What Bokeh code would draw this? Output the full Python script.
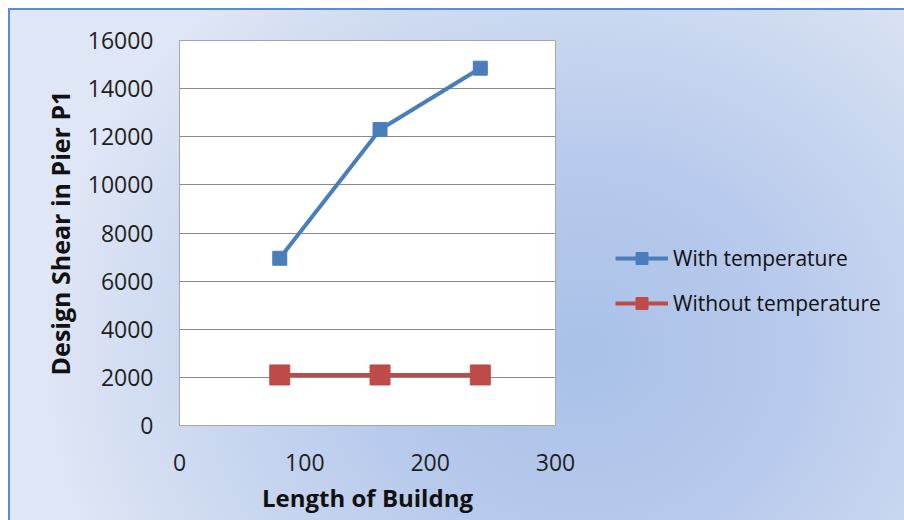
from bokeh.plotting import figure
from bokeh.models import Legend, LegendItem, FixedTicker, Range1d
from bokeh.embed import file_html
from bokeh.resources import INLINE

# ---- data ----
lengths = [80, 160, 240]
with_temperature = [6950, 12300, 14850]
without_temperature = [2100, 2100, 2100]
x_ticks = [0, 100, 200, 300]
y_ticks = [0, 2000, 4000, 6000, 8000, 10000, 12000, 14000, 16000]
series_names = ["With temperature", "Without temperature"]
x_title = "Length of Buildng"
y_title = "Design Shear in Pier P1"

BLUE = "#4a7ebb"
RED = "#be4b48"
FONT = "Open Sans"

p = figure(frame_width=376, frame_height=385, output_backend="svg", toolbar_location=None,
           x_range=Range1d(0, 300), y_range=Range1d(0, 16000),
           min_border_left=179, min_border_top=40, min_border_right=349, min_border_bottom=95)

p.border_fill_alpha = 0
p.background_fill_color = "white"
p.outline_line_color = "#a6a6a6"
p.outline_line_width = 1
p.styles = {
    "background": (
        "linear-gradient(#5b8bd6,#5b8bd6) 8px 8px/100% 2px no-repeat, "
        "linear-gradient(#5b8bd6,#5b8bd6) 8px 8px/2px 100% no-repeat, "
        "radial-gradient(ellipse 540px 480px at 575px 345px, #a9c1e8 0%, #b8caec 40%, #cbd8f0 72%, #dfe6f5 100%) 8px 8px/100% 100% no-repeat, "
        "white"
    )
}

p.xgrid.visible = False
p.ygrid.grid_line_color = "#8a8a8a"
p.ygrid.grid_line_width = 1

p.xaxis.ticker = FixedTicker(ticks=x_ticks)
p.yaxis.ticker = FixedTicker(ticks=y_ticks)
for ax in (p.xaxis[0], p.yaxis[0]):
    ax.axis_line_color = None
    ax.major_tick_line_color = None
    ax.minor_tick_line_color = None
    ax.major_label_text_font = FONT
    ax.major_label_text_font_size = "23px"
    ax.major_label_text_color = "#1f1f1f"
    ax.axis_label_text_font = FONT
    ax.axis_label_text_font_style = "bold"
    ax.axis_label_text_color = "#111111"

p.xaxis.axis_label_text_font_size = "24px"
p.yaxis.axis_label_text_font_size = "25px"
p.xaxis.major_label_standoff = 22
p.yaxis.major_label_standoff = 20
p.xaxis.axis_label = x_title
p.yaxis.axis_label = y_title
p.xaxis.axis_label_standoff = 7
p.yaxis.axis_label_standoff = 8

l1 = p.line(lengths, with_temperature, line_color=BLUE, line_width=4)
s1 = p.scatter(lengths, with_temperature, marker="square", size=14, fill_color=BLUE, line_color=BLUE)
l2 = p.line(lengths, without_temperature, line_color=RED, line_width=4)
s2 = p.scatter(lengths, without_temperature, marker="square", size=20, fill_color=RED, line_color=RED)

legend = Legend(items=[LegendItem(label=series_names[0], renderers=[l1, s1]),
                       LegendItem(label=series_names[1], renderers=[l2, s2])],
                location=(60, 107), orientation="vertical")
legend.background_fill_alpha = 0
legend.border_line_color = None
legend.padding = 0
legend.margin = 0
legend.glyph_width = 53
legend.glyph_height = 30
legend.label_standoff = 5
legend.spacing = 15
legend.label_text_font = FONT
legend.label_text_font_size = "21px"
legend.label_text_color = "#111111"
p.add_layout(legend, "right")

open("out.html", "w").write(file_html(p, INLINE))
